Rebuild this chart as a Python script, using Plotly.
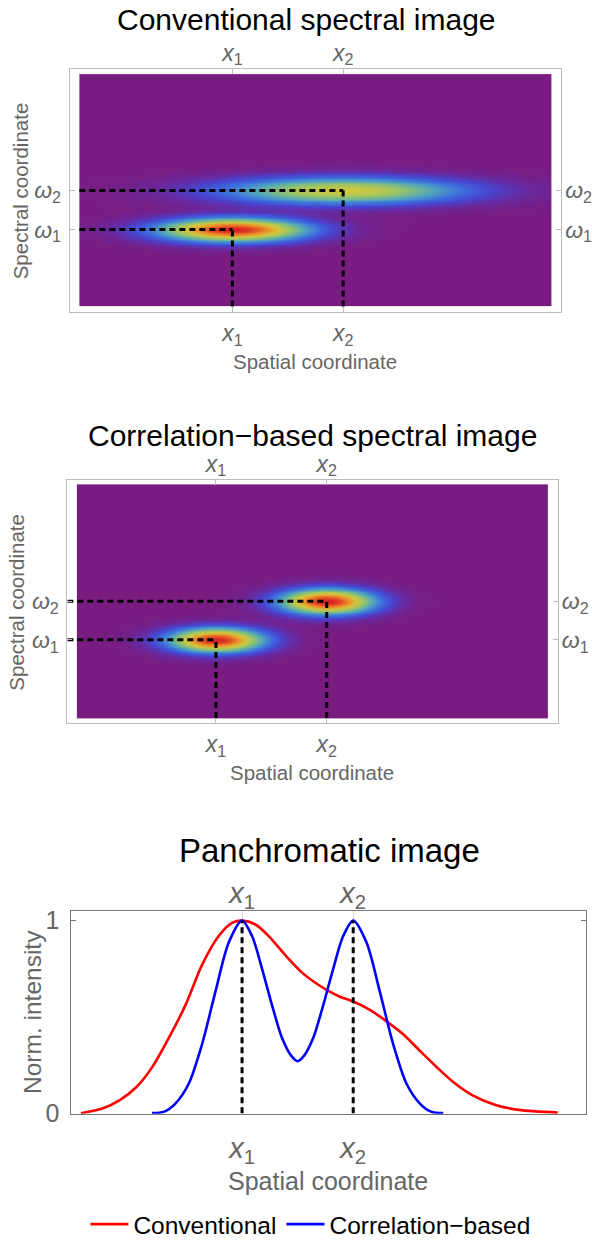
import numpy as np
import plotly.graph_objects as go

# ---------------- data ----------------
# spatial positions of the two points (x1, x2) and spectral lines (w1, w2)
spatial_ticks = [0.0, 1.0]
spectral_ticks = [0.0, 1.0]
spatial_labels = ["<i>x</i><sub>1</sub>", "<i>x</i><sub>2</sub>"]
spectral_labels = ["<i>ω</i><sub>1</sub>", "<i>ω</i><sub>2</sub>"]

# conventional spectral image: two blobs (peak, spatial width, spectral width)
conv_peak = [1.0, 0.65]
conv_sigma_s = [0.45, 0.74]
conv_sigma_w = [0.20, 0.23]
conv_s_extent = [-1.381, 2.878]
conv_w_extent = [-1.965, 3.97]

# correlation-based spectral image
corr_peak = [1.0, 1.0]
corr_sigma_s = [0.29, 0.29]
corr_sigma_w = [0.21, 0.22]
corr_s_extent = [-1.255, 2.999]
corr_w_extent = [-2.03, 4.03]

# panchromatic image (normalised intensity vs spatial coordinate)
conv_curve_s = [-1.45, -1.25, -1.10, -0.95, -0.81, -0.66, -0.51, -0.36, -0.21, -0.09,
                0.00, 0.12, 0.24, 0.39, 0.54, 0.64, 0.76, 0.88, 1.00, 1.15,
                1.30, 1.45, 1.60, 1.75, 1.90, 2.07, 2.28, 2.49, 2.84]
conv_curve_v = [0.0, 0.026, 0.068, 0.136, 0.238, 0.39, 0.56, 0.77, 0.92, 0.988,
                1.0, 0.98, 0.92, 0.82, 0.73, 0.685, 0.64, 0.605, 0.58, 0.537,
                0.477, 0.41, 0.324, 0.24, 0.162, 0.094, 0.043, 0.017, 0.003]
corr_curve_s = [-0.81, -0.70, -0.60, -0.48, -0.36, -0.24, -0.12, 0.00, 0.09, 0.18,
                0.27, 0.36, 0.44, 0.50, 0.56, 0.64, 0.73, 0.82, 0.91, 1.00,
                1.12, 1.24, 1.36, 1.48, 1.60, 1.70, 1.81]
corr_curve_v = [0.0, 0.008, 0.05, 0.153, 0.358, 0.63, 0.886, 1.0, 0.92, 0.75,
                0.56, 0.39, 0.30, 0.27, 0.30, 0.39, 0.56, 0.75, 0.92, 1.0,
                0.886, 0.63, 0.358, 0.153, 0.05, 0.008, 0.0]

titles = ["Conventional spectral image", "Correlation\u2212based spectral image", "Panchromatic image"]
series_names = ["Conventional", "Correlation\u2212based"]

# ---------------- styling ----------------
W, H = 592, 1254
FONT = "Liberation Sans, Arial, sans-serif"
GRAY = "#666666"
FRAME = "#bdbdbd"
rainbow = [
    [0.00, "rgb(120,28,129)"],
    [0.05, "rgb(104,42,160)"],
    [0.12, "rgb(74,66,205)"],
    [0.22, "rgb(60,108,222)"],
    [0.35, "rgb(80,164,192)"],
    [0.50, "rgb(146,196,110)"],
    [0.65, "rgb(210,200,60)"],
    [0.78, "rgb(236,150,45)"],
    [0.90, "rgb(228,86,35)"],
    [1.00, "rgb(215,30,34)"],
]


def px_x(p):
    return p / W


def px_y(p):
    return 1 - p / H


def blob_image(s_ext, w_ext, peaks, sig_s, sig_w, ns=360, nw=180):
    ds = (s_ext[1] - s_ext[0]) / ns
    dw = (w_ext[1] - w_ext[0]) / nw
    s = s_ext[0] + ds * (np.arange(ns) + 0.5)
    w = w_ext[0] + dw * (np.arange(nw) + 0.5)
    S, Wg = np.meshgrid(s, w)
    z = np.zeros_like(S)
    for cs, cw, a, ss, sw in zip(spatial_ticks, spectral_ticks, peaks, sig_s, sig_w):
        z += a * np.exp(-(S - cs) ** 2 / (2 * ss ** 2) - (Wg - cw) ** 2 / (2 * sw ** 2))
    return s, w, z


fig = go.Figure()

dash_style = dict(color="black", width=3, dash="6px,4px")

panels = [
    dict(ext_s=conv_s_extent, ext_w=conv_w_extent, peaks=conv_peak, ss=conv_sigma_s, sw=conv_sigma_w,
         xr=[-1.469, 2.968], yr=[-2.098, 4.098], xa="x", ya="y", xt="x2", yt="y2", hstart="image"),
    dict(ext_s=corr_s_extent, ext_w=corr_w_extent, peaks=corr_peak, ss=corr_sigma_s, sw=corr_sigma_w,
         xr=[-1.341, 3.086], yr=[-2.16, 4.14], xa="x3", ya="y3", xt="x4", yt="y4", hstart="frame"),
]

for p in panels:
    s, w, z = blob_image(p["ext_s"], p["ext_w"], p["peaks"], p["ss"], p["sw"])
    fig.add_trace(go.Heatmap(x=s, y=w, z=z, colorscale=rainbow, zmin=0, zmax=1, showscale=False,
                             zsmooth="best", hoverinfo="skip", xaxis=p["xa"], yaxis=p["ya"]))
    s0 = p["ext_s"][0] if p["hstart"] == "image" else p["xr"][0]
    wb = p["ext_w"][0]
    xs, ys = [], []
    for sx, wy in zip(spatial_ticks, spectral_ticks):
        xs += [s0, sx, None, sx, sx, None]
        ys += [wy, wy, None, wb, wy, None]
    fig.add_trace(go.Scatter(x=xs, y=ys, mode="lines", line=dash_style, hoverinfo="skip",
                             showlegend=False, xaxis=p["xa"], yaxis=p["ya"]))
    # invisible trace for top/right label axes
    fig.add_trace(go.Scatter(x=spatial_ticks, y=spectral_ticks, mode="markers", marker=dict(opacity=0),
                             hoverinfo="skip", showlegend=False, xaxis=p["xt"], yaxis=p["yt"]))

# panchromatic panel
fig.add_trace(go.Scatter(x=conv_curve_s, y=conv_curve_v, mode="lines", name=series_names[0],
                         line=dict(color="#ff0000", width=2.6, shape="spline", smoothing=0.8),
                         xaxis="x5", yaxis="y5"))
fig.add_trace(go.Scatter(x=corr_curve_s, y=corr_curve_v, mode="lines", name=series_names[1],
                         line=dict(color="#0000ff", width=2.6, shape="spline", smoothing=0.8),
                         xaxis="x5", yaxis="y5"))
xs, ys = [], []
for sx in spatial_ticks:
    xs += [sx, sx, None]
    ys += [0, 1, None]
fig.add_trace(go.Scatter(x=xs, y=ys, mode="lines", line=dict(color="black", width=3, dash="6px,4px"),
                         hoverinfo="skip", showlegend=False, xaxis="x5", yaxis="y5"))
fig.add_trace(go.Scatter(x=spatial_ticks, y=[0, 1], mode="markers", marker=dict(opacity=0),
                         hoverinfo="skip", showlegend=False, xaxis="x6", yaxis="y5"))

small_tick = dict(size=23, color=GRAY, family=FONT)
big_tick = dict(size=29, color=GRAY, family=FONT)


def frame_axis(domain, rng, anchor, vals, text, font, color, side=None, standoff=2):
    d = dict(domain=domain, range=rng, anchor=anchor, tickvals=vals, ticktext=text,
             tickfont=font, showline=True, linecolor=color, linewidth=1, mirror="ticks",
             ticks="inside", ticklen=5, tickcolor=color, showgrid=False, zeroline=False,
             fixedrange=True, ticklabelstandoff=standoff)
    if side:
        d["side"] = side
    return d


def label_axis(rng, anchor, overlay, side, vals, text, font, standoff=2):
    return dict(range=rng, anchor=anchor, overlaying=overlay, side=side, tickvals=vals, ticktext=text,
                tickfont=font, showline=False, ticks="", showgrid=False, zeroline=False,
                fixedrange=True, ticklabelstandoff=standoff)


# panel domains (frame pixel boxes)
d1x = [px_x(70), px_x(564)]
d1y = [px_y(312), px_y(66)]
d2x = [px_x(67.7), px_x(560.7)]
d2y = [px_y(729), px_y(482.7)]
d3x = [px_x(71.7), px_x(588.7)]
d3y = [px_y(1125), px_y(919.3)]

layout = dict(
    width=W, height=H, autosize=False,
    margin=dict(l=0, r=0, t=0, b=0, pad=0),
    paper_bgcolor="white", plot_bgcolor="white",
    font=dict(family=FONT),
    showlegend=True,
    legend=dict(orientation="h", x=px_x(312), xanchor="center", y=px_y(1237), yanchor="middle",
                font=dict(size=24.5, color="black", family=FONT), bgcolor="rgba(0,0,0,0)",
                itemwidth=38, tracegroupgap=0),
)
layout["xaxis"] = frame_axis(d1x, panels[0]["xr"], "y", spatial_ticks, spatial_labels, small_tick, FRAME, standoff=1)
layout["yaxis"] = frame_axis(d1y, panels[0]["yr"], "x", spectral_ticks, spectral_labels, small_tick, FRAME, standoff=3)
layout["xaxis2"] = label_axis(panels[0]["xr"], "y", "x", "top", spatial_ticks, spatial_labels, small_tick, standoff=3)
layout["yaxis2"] = label_axis(panels[0]["yr"], "x", "y", "right", spectral_ticks, spectral_labels, small_tick, standoff=3)
layout["xaxis3"] = frame_axis(d2x, panels[1]["xr"], "y3", spatial_ticks, spatial_labels, small_tick, FRAME, standoff=0)
layout["yaxis3"] = frame_axis(d2y, panels[1]["yr"], "x3", spectral_ticks, spectral_labels, small_tick, FRAME, standoff=3)
layout["xaxis4"] = label_axis(panels[1]["xr"], "y3", "x3", "top", spatial_ticks, spatial_labels, small_tick, standoff=3)
layout["yaxis4"] = label_axis(panels[1]["yr"], "x3", "y3", "right", spectral_ticks, spectral_labels, small_tick, standoff=3)

x5 = frame_axis(d3x, [-1.536, 3.092], "y5", spatial_ticks, spatial_labels, big_tick, "#777777", standoff=8)
x5.update(showgrid=True, gridcolor="#dddddd", gridwidth=1, ticks="")
layout["xaxis5"] = x5
layout["yaxis5"] = frame_axis(d3y, [-0.003, 1.051], "x5", [0, 1], ["0", "1"], dict(size=25, color=GRAY, family=FONT),
                              "#777777", standoff=6)
layout["xaxis6"] = label_axis([-1.536, 3.092], "y5", "x5", "top", spatial_ticks, spatial_labels, big_tick, standoff=1)

annotations = []
title_pos = [(308, 16, 30), (314, 437, 30), (331, 858, 33)]
for t, (cx, cy, fs) in zip(titles, title_pos):
    annotations.append(dict(text=t, x=px_x(cx), y=px_y(cy), xref="paper", yref="paper", showarrow=False,
                            xanchor="center", yanchor="middle", font=dict(size=fs, color="black", family=FONT)))
axis_titles = [
    ("Spatial coordinate", 317, 362, 0, 20.5),
    ("Spectral coordinate", 21, 189, -90, 20.5),
    ("Spatial coordinate", 314, 779, 0, 20.5),
    ("Spectral coordinate", 17, 606, -90, 20.5),
    ("Spatial coordinate", 330, 1193, 0, 25),
    ("Norm. intensity", 32, 1022, -90, 24.5),
]
for t, cx, cy, ang, fs in axis_titles:
    annotations.append(dict(text=t, x=px_x(cx), y=px_y(cy), xref="paper", yref="paper", showarrow=False,
                            xanchor="center", yanchor="middle", textangle=ang,
                            font=dict(size=fs, color=GRAY, family=FONT)))
layout["annotations"] = annotations

fig.update_layout(**layout)
fig.write_html(
    "out.html",
    config={"displayModeBar": False, "staticPlot": True},
    post_script="document.body.style.margin='0px';"
                "document.documentElement.style.overflow='hidden';"
                "document.body.style.overflow='hidden';"
                "var gd=document.getElementsByClassName('plotly-graph-div')[0];"
                "gd.style.position='fixed';gd.style.left='0px';gd.style.top='0px';",
)
